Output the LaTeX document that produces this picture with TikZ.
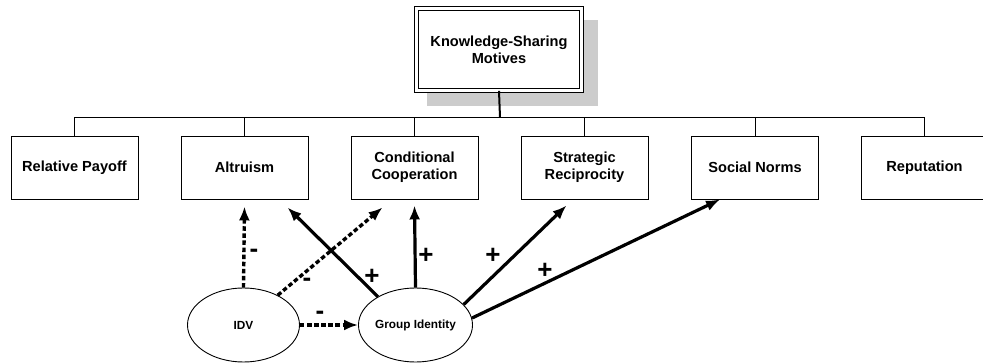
\documentclass[tikz,border=0pt]{standalone}
\usepackage{fontspec}
\setmainfont{Liberation Sans}
\usetikzlibrary{calc,shapes.geometric,arrows.meta}
\begin{document}
\begin{tikzpicture}[x=1pt,y=-1pt,
  motive/.style={draw=black,line width=0.9pt,fill=white,minimum width=127pt,minimum height=63pt,
    inner sep=0pt,align=center,font=\fontsize{14.6}{16.8}\selectfont\bfseries},
  factor/.style={ellipse,draw=black,line width=0.9pt,fill=white,inner sep=0pt,minimum width=112pt,
    minimum height=74pt,font=\fontsize{11.8}{14}\selectfont\bfseries},
  bus/.style={line width=1pt},
  plusarrow/.style={line width=3.2pt,-{Latex[length=14pt,width=11pt]}},
  minusarrow/.style={line width=3.4pt,dash pattern=on 4.5pt off 2.6pt,-{Latex[length=14pt,width=11pt]}},
  sign/.style={font=\fontsize{26}{26}\selectfont\bfseries,inner sep=0pt}]
\useasboundingbox (0,0) rectangle (983,363);

% title box with drop shadow and double frame
\fill[gray!40] (427,20) rectangle (598,106);
\node[draw=black,double=white,double distance=2.6pt,line width=0.9pt,fill=white,
  minimum width=165pt,minimum height=82pt,align=center,
  font=\fontsize{14.6}{16.8}\selectfont\bfseries] (ksm) at (499,49.5) {Knowledge-Sharing\\Motives};

% the six motives
\node[motive] (pay) at (74.5,167.5) {Relative Payoff};
\node[motive] (alt) at (244.5,167.5) {Altruism};
\node[motive] (cond) at (414.5,167.5) {Conditional\\Cooperation};
\node[motive] (str) at (584.5,167.5) {Strategic\\Reciprocity};
\node[motive] (soc) at (755,167.5) {Social Norms};
\node[motive] (rep) at (924.5,167.5) {Reputation};

% tree connectors
\coordinate (hub) at (500,117.5);
\draw[line width=2pt] (ksm.south) -- (hub);
\draw[bus] (pay.north) |- (hub) -| (rep.north);
\foreach \n in {alt,cond,str,soc} \draw[bus] (\n.north) -- (\n.north |- hub);

% antecedents
\node[factor] (idv) at (243.5,325) {IDV};
\node[factor] (gid) at (415.5,325) {Group Identity};

% negative (dashed) effects of IDV
\draw[minusarrow,shorten >=1pt] (idv.north) -- ($(alt.south)+(0,6)$);
\draw[minusarrow] (idv.41) -- ($(cond.south west)+(32,8)$);
\draw[minusarrow] (idv.east) -- (gid.west);

% positive effects of group identity
\draw[plusarrow] (gid.143) -- ($(alt.south west)+(107,8)$);
\draw[plusarrow] (gid.north) -- ($(cond.south)+(0,6)$);
\draw[plusarrow] (gid.23) -- ($(str.south west)+(46,6)$);
\draw[plusarrow] (gid.7) -- ($(soc.south west)+(29,0)$);

% signs
\node[sign] (m1) at (254,253) {-};
\node[sign] (m2) at (307,282) {-};
\node[sign] (m3) at (320,315) {-};
\node[sign] (p1) at (372,277) {+};
\node[sign] (p2) at (426,256) {+};
\node[sign] (p3) at (493,256) {+};
\node[sign] (p4) at (545,271) {+};
\end{tikzpicture}
\end{document}
